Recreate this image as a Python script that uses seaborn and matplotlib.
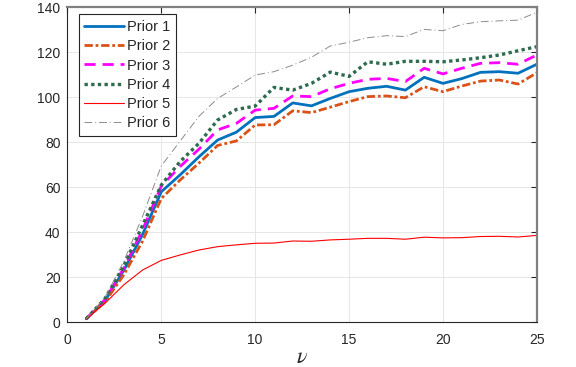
import pandas as pd
import seaborn as sns
import matplotlib.pyplot as plt

# values
nu = list(range(1, 26))
prior_1 = [1.5, 9.5, 23, 39, 58, 65.5, 73.5, 81, 84.5, 91, 91.5, 97.5, 96.2, 99.5, 102.5,
           104, 104.9, 103.2, 108.9, 106.2, 108.3, 111.1, 111.4, 110.7, 114.7]
prior_2 = [1.5, 9, 21, 36, 55, 63.2, 70.7, 78.6, 80.6, 87.7, 87.8, 94, 93.2, 95.6, 98.1,
           100.3, 100.6, 99.8, 104.7, 102.5, 105, 107.2, 107.7, 105.9, 110.9]
prior_3 = [1.5, 10, 24, 41, 60.5, 69.2, 76.9, 85.5, 88.4, 94.3, 95.1, 100.6, 100.3, 103.8, 106.2,
           108, 108.4, 107, 112.9, 110.4, 112.9, 115.1, 115.4, 114.7, 118.8]
prior_4 = [1.5, 10.5, 25, 43, 61, 71.4, 79.5, 89.9, 94.6, 96.1, 104.4, 103.2, 106.2, 111.2, 109.3,
           115.8, 114.7, 116, 116, 115.8, 116.6, 117.6, 118.8, 120.7, 122.5]
prior_5 = [1.5, 8.4, 16.6, 23.2, 27.5, 29.9, 32.1, 33.6, 34.4, 35.1, 35.2, 36.1, 36, 36.6, 36.9,
           37.3, 37.3, 36.9, 37.8, 37.5, 37.6, 38.1, 38.2, 37.9, 38.6]
prior_6 = [1.5, 11, 27, 47, 69.5, 80.5, 91.5, 99.5, 104.6, 109.9, 111.4, 114.3, 117.8, 122.8, 124.5,
           126.5, 127.4, 127, 130.2, 129.6, 132.4, 133.6, 134, 134.3, 137.8]

labels = ["Prior 1", "Prior 2", "Prior 3", "Prior 4", "Prior 5", "Prior 6"]
series = [prior_1, prior_2, prior_3, prior_4, prior_5, prior_6]

# line styles (matlab-ish defaults)
styles = [
    dict(color="#0072BD", linestyle="-", linewidth=2.0),
    dict(color="#D95319", linestyle=(0, (3, 1, 1, 1)), linewidth=2.0),
    dict(color="#FF00FF", linestyle=(0, (4, 2.5)), linewidth=2.0),
    dict(color="#2E6B4F", linestyle=(0, (1, 1)), linewidth=2.4),
    dict(color="#FF0000", linestyle="-", linewidth=0.8),
    dict(color="#8C8C8C", linestyle=(0, (8, 3, 1, 3)), linewidth=0.7),
]

sns.set_theme(style="white")
plt.rcParams["font.family"] = ["Liberation Sans", "DejaVu Sans"]
plt.rcParams["mathtext.fontset"] = "stix"

fig = plt.figure(figsize=(5.76, 3.67), dpi=100)
ax = fig.add_axes([0.117, 0.122, 0.815, 0.858])

for lab, vals, st in zip(labels, series, styles):
    df = pd.DataFrame({"nu": nu, "val": vals})
    sns.lineplot(data=df, x="nu", y="val", ax=ax, label=lab, **st)

ax.set_xlim(0, 25)
ax.set_ylim(0, 140)
ax.set_xticks([0, 5, 10, 15, 20, 25])
ax.set_yticks(range(0, 141, 20))
ax.grid(True, color="#e6e6e6", linewidth=0.7)
ax.set_axisbelow(True)
ax.tick_params(direction="in", top=True, right=True, length=4, width=0.8,
               labelsize=10, colors="#262626", labelcolor="#262626", pad=5)
ax.tick_params(axis="x", pad=8)
for side in ["left", "bottom"]:
    ax.spines[side].set_color("#262626")
    ax.spines[side].set_linewidth(0.8)
for side in ["top", "right"]:
    ax.spines[side].set_color("#808080")
    ax.spines[side].set_linewidth(1.6)

ax.set_xlabel(r"$\nu$", fontsize=16, labelpad=0)
ax.set_ylabel("")

leg = ax.legend(loc="upper left", bbox_to_anchor=(0.024, 0.978), fontsize=10.5,
                frameon=True, fancybox=False, framealpha=1, edgecolor="#262626",
                handlelength=2.7, handletextpad=0.2, labelspacing=0.36, borderpad=0.4,
                borderaxespad=0.0)
leg.get_frame().set_linewidth(0.8)

fig.savefig("out.png", dpi=100)
